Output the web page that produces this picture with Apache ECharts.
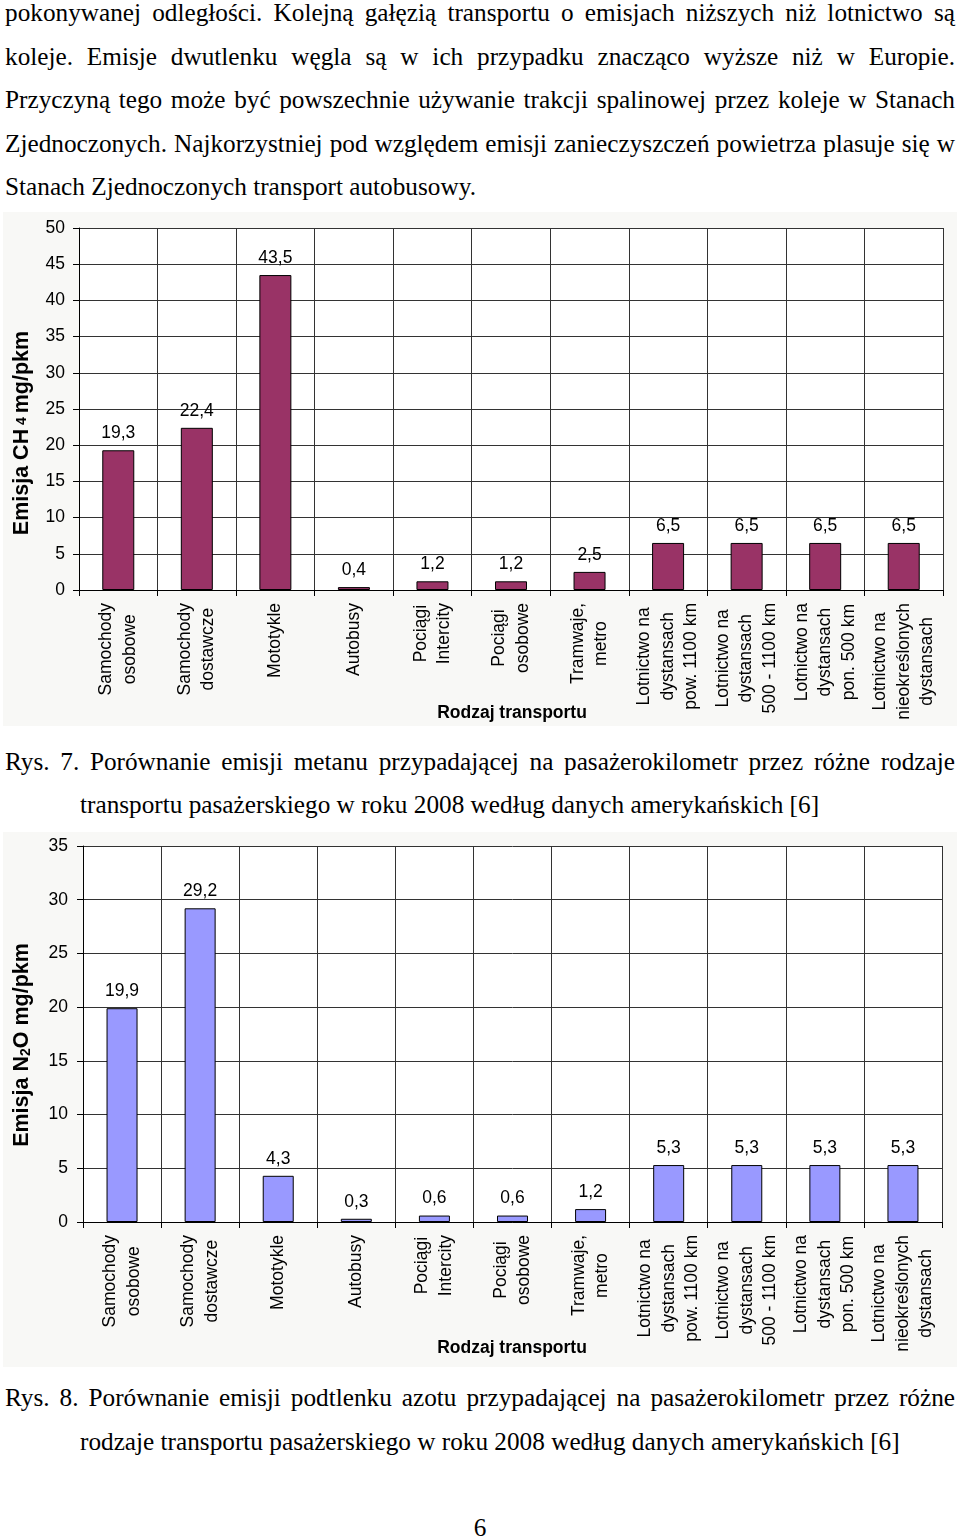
<!DOCTYPE html>
<html>
<head>
<meta charset="utf-8">
<script src="https://cdn.jsdelivr.net/npm/echarts@6.0.0/dist/echarts.min.js"></script>
<style>
  body { margin: 0; width: 960px; height: 1537px; background: #fff; position: relative; overflow: hidden; }
  .ln { position: absolute; left: 5px; width: 950px; height: 30px; line-height: 30px; font-family: "Liberation Serif", "Times New Roman", serif; font-size: 25.25px; color: #000; white-space: nowrap; }
  .just { text-align: justify; text-align-last: justify; }
  .chart { position: absolute; left: 3px; width: 954px; background: #f8f8f6; }
</style>
</head>
<body>
<div class="ln just" style="top:-3px">pokonywanej odległości. Kolejną gałęzią transportu o emisjach niższych niż lotnictwo są</div>
<div class="ln just" style="top:40.5px">koleje. Emisje dwutlenku węgla są w ich przypadku znacząco wyższe niż w Europie.</div>
<div class="ln just" style="top:84px">Przyczyną tego może być powszechnie używanie trakcji spalinowej przez koleje w Stanach</div>
<div class="ln just" style="top:127.5px">Zjednoczonych. Najkorzystniej pod względem emisji zanieczyszczeń powietrza plasuje się w</div>
<div class="ln" style="top:171px">Stanach Zjednoczonych transport autobusowy.</div>

<div id="main1" class="chart" style="top:212px;height:514px;"></div>

<div class="ln just" style="top:746px">Rys. 7. Porównanie emisji metanu przypadającej na pasażerokilometr przez różne rodzaje</div>
<div class="ln" style="top:789px;left:80px;width:870px">transportu pasażerskiego w roku 2008 według danych amerykańskich [6]</div>

<div id="main2" class="chart" style="top:832px;height:535px;"></div>

<div class="ln just" style="top:1382px">Rys. 8. Porównanie emisji podtlenku azotu przypadającej na pasażerokilometr przez różne</div>
<div class="ln" style="top:1426px;left:80px;width:870px">rodzaje transportu pasażerskiego w roku 2008 według danych amerykańskich [6]</div>

<div class="ln" style="top:1512px;left:0;width:960px;text-align:center">6</div>

<script>
var categories = [
  'Samochody\nosobowe',
  'Samochody\ndostawcze',
  'Mototykle',
  'Autobusy',
  'Pociągi\nIntercity',
  'Pociągi\nosobowe',
  'Tramwaje,\nmetro',
  'Lotnictwo na\ndystansach\npow. 1100 km',
  'Lotnictwo na\ndystansach\n500 - 1100 km',
  'Lotnictwo na\ndystansach\npon. 500 km',
  'Lotnictwo na\nnieokreślonych\ndystansach'
]
var ch4Values = [19.3, 22.4, 43.5, 0.4, 1.2, 1.2, 2.5, 6.5, 6.5, 6.5, 6.5]
var n2oValues = [19.9, 29.2, 4.3, 0.3, 0.6, 0.6, 1.2, 5.3, 5.3, 5.3, 5.3]
var xTitle = 'Rodzaj transportu'

var sans = '"Liberation Sans", Arial, sans-serif'
var gridColor = '#333'
var fs = 17.5

function comma (v) {
  return v.toFixed(1).replace('.', ',')
}

function makeOption (cfg) {
  return {
    animation: false,
    backgroundColor: 'transparent',
    grid: {
      left: cfg.grid[0],
      top: cfg.grid[1],
      width: cfg.grid[2],
      height: cfg.grid[3],
      show: true,
      backgroundColor: '#fff',
      borderWidth: 0
    },
    xAxis: {
      type: 'category',
      data: categories,
      axisLine: { lineStyle: { color: '#000', width: 1 } },
      axisTick: { show: true, length: 6, lineStyle: { color: '#000' } },
      splitLine: { show: true, lineStyle: { color: gridColor, width: 1 } },
      axisLabel: {
        interval: 0,
        rotate: 90,
        margin: 13,
        color: '#000',
        formatter: function (v) {
          return v.split('\n').map(function (s) { return '{c|' + s + '}' }).join('\n')
        },
        rich: {
          c: { align: 'center', fontFamily: sans, fontSize: fs, lineHeight: 23.5, color: '#000' }
        }
      }
    },
    yAxis: {
      type: 'value',
      min: 0,
      max: cfg.max,
      interval: 5,
      axisLine: { show: true, lineStyle: { color: '#000', width: 1 } },
      axisTick: { show: true, length: 6, lineStyle: { color: '#000' } },
      splitLine: { show: true, lineStyle: { color: gridColor, width: 1 } },
      axisLabel: { margin: cfg.ymargin, fontFamily: sans, fontSize: fs, color: '#000' }
    },
    graphic: [
      {
        type: 'text',
        x: cfg.yTitlePos[0],
        y: cfg.yTitlePos[1],
        rotation: Math.PI / 2,
        style: {
          text: cfg.yTitle,
          align: 'center',
          verticalAlign: 'middle',
          rich: {
            a: { fontFamily: sans, fontWeight: 'bold', fontSize: 21.5, fill: '#000' },
            s: { fontFamily: sans, fontWeight: 'bold', fontSize: 14, fill: '#000', verticalAlign: cfg.subAlign }
          }
        }
      },
      {
        type: 'text',
        x: cfg.xTitlePos[0],
        y: cfg.xTitlePos[1],
        style: {
          text: xTitle,
          align: 'center',
          verticalAlign: 'middle',
          font: 'bold ' + fs + 'px ' + sans,
          fill: '#000'
        }
      }
    ],
    series: [{
      type: 'bar',
      data: cfg.values,
      barWidth: cfg.barWidth,
      itemStyle: { color: cfg.color, borderColor: '#000', borderWidth: 1 },
      label: {
        show: true,
        position: 'top',
        distance: 8,
        fontFamily: sans,
        fontSize: fs,
        color: '#000',
        formatter: function (p) { return comma(p.value) }
      }
    }]
  }
}

var chart1 = echarts.init(document.getElementById('main1'))
chart1.setOption(makeOption({
  grid: [76, 16, 864, 362],
  max: 50,
  ymargin: 14,
  values: ch4Values,
  color: '#993366',
  barWidth: 32,
  yTitle: '{a|Emisja CH}{s| 4 }{a|mg/pkm}',
  subAlign: 'middle',
  yTitlePos: [19, 221],
  xTitlePos: [509, 501]
}))

var chart2 = echarts.init(document.getElementById('main2'))
chart2.setOption(makeOption({
  grid: [80, 14, 859, 376],
  max: 35,
  ymargin: 15,
  values: n2oValues,
  color: '#9999FF',
  barWidth: 31,
  yTitle: '{a|Emisja N}{s|2}{a|O mg/pkm}',
  subAlign: 'bottom',
  yTitlePos: [19, 213],
  xTitlePos: [509, 516]
}))
</script>
</body>
</html>
